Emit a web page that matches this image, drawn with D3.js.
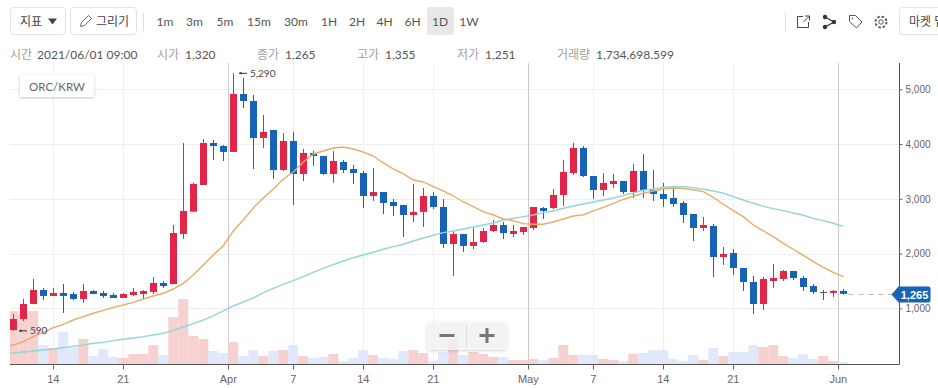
<!DOCTYPE html>
<html>
<head>
<meta charset="utf-8">
<title>ORC/KRW</title>
<script src="https://cdn.jsdelivr.net/npm/d3@7"></script>
<style>
    html, body { margin: 0; padding: 0; background: #fff; overflow: hidden; }
    svg { display: block; }
    text { font-family: Lato, "Noto Sans CJK KR", sans-serif; }
    .axis text { font-family: "Liberation Sans", Arial, sans-serif; fill: #666; }
</style>
</head>
<body>
<div id="chart"></div>
<script>
// daily candles, 2021-03-10 .. 2021-06-01
var opens = [606,807,1081,1336,1227,1282,1263,1172,1318,1282,1245,1190,1245,1263,1300,1464,1445,2358,2765,3252,4019,3964,3855,4913,4785,4110,4256,3526,4055,3453,3836,3782,3453,3672,3544,3471,3051,3124,2942,2887,2705,2760,3051,2851,2176,2358,2139,2212,2413,2522,2358,2394,2467,2832,2832,3070,3471,3927,3416,3161,3270,3325,3124,3508,3161,3088,3015,2924,2723,2467,2504,1938,2011,1737,1482,1081,1500,1537,1683,1555,1409,1300,1282,1320]
var highs = [899,1172,1537,1373,1373,1445,1300,1445,1336,1318,1282,1282,1373,1336,1573,1500,2522,4019,3294,4092,4073,3982,5290,5205,4895,4530,4256,4201,4220,3909,3873,3782,3873,3709,3617,3508,3562,3124,2997,2887,3270,3198,3124,2997,2413,2358,2467,2467,2614,2577,2522,2486,2851,2851,3179,3709,4019,3964,3416,3471,3453,3325,3636,3818,3526,3289,3179,2960,2723,2668,2541,2121,2084,1737,1591,1573,1810,1701,1683,1591,1445,1336,1336,1355]
var lows = [590,770,1081,1154,1227,917,1154,1099,1263,1190,1190,1190,1227,1172,1263,1373,1445,2267,2765,3252,3709,3690,3855,4657,3544,3927,3362,3508,2887,3325,3599,3435,3289,3471,3270,2832,2960,2723,2687,2303,2577,2486,2814,2103,1591,2030,2084,2194,2394,2267,2303,2340,2431,2632,2814,2869,3435,3398,2997,3051,3198,3088,3015,3015,2960,2851,2851,2559,2230,2413,1573,1792,1610,1318,899,971,1373,1500,1518,1318,1263,1154,1209,1251]
var closes = [807,1081,1336,1227,1282,1227,1172,1318,1263,1227,1190,1263,1300,1318,1464,1409,2376,2778,3270,4019,3964,3855,4913,4785,4110,4220,3526,4055,3453,3836,3782,3453,3690,3526,3471,3051,3124,2924,2869,2705,2760,3051,2851,2176,2358,2139,2212,2413,2522,2376,2413,2486,2851,2778,3070,3490,3927,3416,3161,3289,3325,3124,3508,3161,3088,2997,2905,2705,2467,2522,1938,1993,1737,1482,1081,1537,1555,1683,1555,1391,1300,1300,1320,1265]
// volume in millions
var volumes = [46.1,43.5,46.1,16.5,13.9,27.8,13.9,21.8,7,13,6.1,5.2,8.7,8.7,16.5,7.8,40.9,56.6,24.4,21.8,11.3,9.6,19.1,7,12.2,7,11.3,12.2,16.5,7,5.2,6.1,8.7,2.6,5.2,12.2,7.8,5.2,4.4,11.3,12.2,9.6,2.6,10.4,21.8,7.8,10.4,8.7,6.1,6.1,3.5,3.5,4.4,3.5,5.2,16.5,7.8,7.8,7.8,4.4,3.5,2.6,8.7,9.6,12.2,12.2,4.4,2.6,7.8,3.5,13.9,7,10.4,10.4,16.5,14.8,16.5,7,5.2,8.7,4.4,7,2.6,1.73]
// moving averages start one day earlier (2021-03-09), that point is cut by the plot edge
var maShort = [287,332,392,484,564,648,710,788,849,911,965,1020,1062,1111,1172,1226,1276,1354,1458,1610,1792,1975,2144,2413,2613,2832,3015,3179,3362,3489,3672,3818,3873,3927,3946,3909,3854,3781,3654,3544,3453,3343,3307,3221,3143,3051,2942,2856,2765,2705,2632,2601,2546,2535,2535,2577,2632,2686,2710,2778,2845,2918,2991,3046,3101,3143,3179,3197,3185,3166,3130,3028,2900,2783,2674,2522,2413,2309,2188,2079,1969,1852,1750,1659,1579]
var maLong = [173,186,204,223,241,259,283,308,332,363,381,411,436,460,484,515,546,600,661,721,788,867,953,1044,1117,1190,1287,1367,1440,1506,1579,1659,1732,1798,1865,1925,1975,2024,2079,2126,2170,2230,2285,2334,2382,2413,2449,2486,2522,2559,2613,2644,2674,2705,2747,2778,2827,2869,2905,2942,2978,3015,3057,3106,3155,3179,3210,3221,3221,3203,3174,3143,3101,3039,2978,2918,2863,2820,2783,2741,2699,2644,2601,2553,2498]

var priceTicks = [1000, 2000, 3000, 4000, 5000]
var dayTicks = ["2021-03-14", "2021-03-21", "2021-04-07", "2021-04-14", "2021-04-21", "2021-05-07", "2021-05-14", "2021-05-21"]
var monthTicks = ["2021-04-01", "2021-05-01", "2021-06-01"]
var monthNames = ["Apr", "May", "Jun"]
var periods = ["1m", "3m", "5m", "15m", "30m", "1H", "2H", "4H", "6H", "1D", "1W"]
var periodCenters = [165, 194.5, 225, 259, 296, 329, 357, 384.5, 412.5, 440, 469]
var infoLabels = ["시간", "시가", "종가", "고가", "저가", "거래량"]
var infoValues = ["2021/06/01 09:00", "1,320", "1,265", "1,355", "1,251", "1,734,698.599"]
var infoLabelX = [10, 157, 257, 357, 457, 557]
var infoValueX = [37, 185, 285, 385, 485, 596]

var up = "#e2264a", down = "#1763b6", flat = "#555"
var upVol = "#f7d0d0", downVol = "#dfe9fb"
var plotLeft = 10, plotRight = 899, plotTop = 63, plotBottom = 364

function noon(d) { return d3.utcHour.offset(d, 12) }
var dates = d3.utcDay.range(new Date("2021-03-10T00:00Z"), new Date("2021-06-02T00:00Z")).map(noon)
var maDates = [new Date("2021-03-09T12:00Z")].concat(dates)

var xScale = d3.scaleUtc()
    .domain([dates[0], dates[dates.length - 1]])
    .range([13.3, 843.3])
var yScale = d3.scaleLinear()
    .domain([0, 5000])
    .range([363.2, 89.2])
var volScale = d3.scaleLinear()
    .domain([0, 56.6])
    .range([plotBottom, 299])

var svg = d3.select("#chart").append("svg")
    .attr("width", 938)
    .attr("height", 388)

var defs = svg.append("defs")
defs.append("clipPath").attr("id", "plot")
    .append("rect")
    .attr("x", plotLeft).attr("y", plotTop)
    .attr("width", plotRight - plotLeft).attr("height", plotBottom - plotTop)
var shadow = defs.append("filter").attr("id", "shadow")
    .attr("x", "-20%").attr("y", "-30%").attr("width", "140%").attr("height", "170%")
shadow.append("feDropShadow")
    .attr("dx", 0).attr("dy", 1).attr("stdDeviation", 1.5)
    .attr("flood-color", "#000").attr("flood-opacity", 0.22)

/* === Grid === */
var grid = svg.append("g").attr("class", "grid")
grid.selectAll(".hgrid").data(priceTicks).enter().append("line")
    .attr("x1", plotLeft).attr("x2", plotRight)
    .attr("y1", function(d) { return Math.round(yScale(d)) + 0.5 })
    .attr("y2", function(d) { return Math.round(yScale(d)) + 0.5 })
    .attr("stroke", "#eee")
grid.selectAll(".dgrid").data(dayTicks).enter().append("line")
    .attr("x1", function(d) { return Math.floor(xScale(new Date(d + "T12:00Z"))) + 0.5 })
    .attr("x2", function(d) { return Math.floor(xScale(new Date(d + "T12:00Z"))) + 0.5 })
    .attr("y1", plotTop).attr("y2", plotBottom)
    .attr("stroke", "#eee")
grid.selectAll(".mgrid").data(monthTicks).enter().append("line")
    .attr("x1", function(d) { return Math.floor(xScale(new Date(d + "T00:00Z"))) + 0.5 })
    .attr("x2", function(d) { return Math.floor(xScale(new Date(d + "T00:00Z"))) + 0.5 })
    .attr("y1", plotTop).attr("y2", plotBottom)
    .attr("stroke", "#ccc")

var plot = svg.append("g").attr("clip-path", "url(#plot)")

/* === Volume === */
plot.append("g").selectAll("rect")
    .data(dates).enter().append("rect")
    .attr("x", function(d) { return xScale(d) - 5 })
    .attr("width", 10)
    .attr("y", function(d, i) { return volScale(volumes[i]) })
    .attr("height", function(d, i) { return plotBottom - volScale(volumes[i]) })
    .attr("fill", function(d, i) { return closes[i] >= opens[i] ? upVol : downVol })

/* === Candles === */
function candleColor(i) {
    if (closes[i] > opens[i]) return up
    if (closes[i] < opens[i]) return down
    return flat
}
var candles = plot.append("g").selectAll("g")
    .data(dates).enter().append("g")
candles.append("line")
    .attr("x1", function(d) { return Math.floor(xScale(d)) + 0.5 })
    .attr("x2", function(d) { return Math.floor(xScale(d)) + 0.5 })
    .attr("y1", function(d, i) { return yScale(highs[i]) })
    .attr("y2", function(d, i) { return yScale(lows[i]) })
    .attr("stroke", function(d, i) { return candleColor(i) })
candles.append("rect")
    .attr("x", function(d) { return Math.floor(xScale(d)) - 3 })
    .attr("width", 7)
    .attr("y", function(d, i) { return yScale(Math.max(opens[i], closes[i])) })
    .attr("height", function(d, i) { return Math.max(1, Math.abs(yScale(opens[i]) - yScale(closes[i]))) })
    .attr("fill", function(d, i) { return candleColor(i) })

/* === Moving averages === */
var line = d3.line()
    .x(function(d, i) { return xScale(maDates[i]) })
    .y(function(d) { return yScale(d) })
plot.append("path").attr("d", line(maLong))
    .attr("fill", "none").attr("stroke", "#93d5d9").attr("stroke-width", 1.4)
plot.append("path").attr("d", line(maShort))
    .attr("fill", "none").attr("stroke", "#e8ab68").attr("stroke-width", 1.4)

/* === Axes === */
var xAxis = svg.append("g").attr("class", "axis")
    .attr("transform", "translate(0," + (plotBottom + 0.5) + ")")
xAxis.append("line").attr("x1", plotLeft).attr("x2", plotRight).attr("stroke", "#555")
var xTicks = dayTicks.map(function(d) { return { date: new Date(d + "T12:00Z"), label: String(+d.slice(8)) } })
    .concat(monthTicks.map(function(d, i) { return { date: new Date(d + "T00:00Z"), label: monthNames[i] } }))
xAxis.selectAll(".xtick").data(xTicks).enter().append("line")
    .attr("x1", function(d) { return Math.floor(xScale(d.date)) + 0.5 })
    .attr("x2", function(d) { return Math.floor(xScale(d.date)) + 0.5 })
    .attr("y2", 5)
    .attr("stroke", "#666")
xAxis.selectAll("text").data(xTicks).enter().append("text")
    .attr("x", function(d) { return xScale(d.date) })
    .attr("y", 18)
    .attr("text-anchor", "middle")
    .style("font-size", "11px")
    .text(function(d) { return d.label })

var yAxis = svg.append("g").attr("class", "axis")
    .attr("transform", "translate(" + (plotRight + 0.5) + ",0)")
    .call(d3.axisRight(yScale).tickValues(priceTicks).tickSize(3).tickPadding(3).tickFormat(d3.format(",")))
yAxis.select(".domain").remove()
yAxis.selectAll("line").attr("stroke", "#666")
yAxis.selectAll("text").style("font-size", "10px")
yAxis.append("line").attr("y1", plotTop).attr("y2", plotBottom + 0.5).attr("stroke", "#555")

/* === High / low notes === */
function note(dayIndex, value, label) {
    var y = yScale(value), x = Math.floor(xScale(dates[dayIndex])) + 6
    svg.append("line").attr("x1", x).attr("x2", x + 8).attr("y1", y).attr("y2", y).attr("stroke", "#333")
    svg.append("path").attr("d", "M" + x + "," + y + "l2.5,-1.5v3z").attr("fill", "#333")
    svg.append("text").attr("x", x + 11).attr("y", y + 3.5)
        .attr("fill", "#444").style("font-size", "10px").text(label)
}
note(22, highs[22], d3.format(",")(highs[22]))
note(0, lows[0], String(lows[0]))

/* === Last price tag === */
var lastY = Math.round(yScale(closes[closes.length - 1])) + 0.5
svg.append("line")
    .attr("x1", xScale(dates[dates.length - 1]) + 5).attr("x2", 892)
    .attr("y1", lastY).attr("y2", lastY)
    .attr("stroke", "#bbb").attr("stroke-dasharray", "5,5")
svg.append("path")
    .attr("d", "M891.5," + lastY + "l7,-8h30a2,2 0 0 1 2,2v12a2,2 0 0 1 -2,2h-30z")
    .attr("fill", down)
svg.append("text").attr("x", 914.5).attr("y", lastY + 4)
    .attr("text-anchor", "middle").attr("fill", "#fff")
    .style("font-size", "11px").style("font-weight", 700)
    .style("font-family", "'Liberation Sans', Arial, sans-serif")
    .text(d3.format(",")(closes[closes.length - 1]))

/* === Symbol box === */
svg.append("rect").attr("x", 20).attr("y", 75).attr("width", 74).attr("height", 22)
    .attr("fill", "#fff").attr("filter", "url(#shadow)")
svg.append("text").attr("x", 57).attr("y", 90.5).attr("text-anchor", "middle")
    .attr("fill", "#666").style("font-size", "11.5px").text("ORC/KRW")

/* === Zoom buttons === */
svg.append("rect").attr("x", 427).attr("y", 322).attr("width", 80).attr("height", 28).attr("rx", 3)
    .attr("fill", "#f6f6f6").attr("fill-opacity", 0.78).attr("filter", "url(#shadow)")
svg.append("line").attr("x1", 466.5).attr("x2", 466.5).attr("y1", 325).attr("y2", 347).attr("stroke", "#ddd")
svg.append("path").attr("d", "M439.5,335.5h15M479.5,335.5h15M487,328v15")
    .attr("stroke", "#777").attr("stroke-width", 3).attr("fill", "none")

/* === Toolbar === */
var toolbar = svg.append("g")
function button(x, w, label, tx) {
    toolbar.append("rect").attr("x", x + 0.5).attr("y", 7.5).attr("width", w).attr("height", 27).attr("rx", 3)
        .attr("fill", "#fff").attr("stroke", "#e2e2e2")
    toolbar.append("text").attr("x", tx).attr("y", 26).attr("fill", "#444")
        .style("font-size", "12px").text(label)
}
button(10, 55, "지표", 20)
button(70, 66, "그리기", 96)
button(899, 60, "마켓 뎁스", 909)
toolbar.append("path").attr("d", "M48,18.5h9l-4.5,6z").attr("fill", "#444")
toolbar.append("path").attr("d", "M80.5,26.5l1,-4l7,-7l3,3l-7,7z").attr("fill", "none").attr("stroke", "#666")
toolbar.selectAll(".sep").data([143.5, 785.5]).enter().append("line")
    .attr("x1", function(d) { return d }).attr("x2", function(d) { return d })
    .attr("y1", 13).attr("y2", 31).attr("stroke", "#ddd")
toolbar.append("rect").attr("x", 427).attr("y", 7).attr("width", 27).attr("height", 28).attr("rx", 2).attr("fill", "#e8e8e8")
toolbar.selectAll(".period").data(periods).enter().append("text")
    .attr("x", function(d, i) { return periodCenters[i] })
    .attr("y", 26)
    .attr("text-anchor", "middle")
    .attr("fill", "#555")
    .style("font-size", "12px")
    .text(function(d) { return d })

// right side icons
toolbar.append("path").attr("d", "M803,16.5h-5.5v11h11v-5.5M803.5,22l5.5,-5.5M805,16h4.5v4.5")
    .attr("fill", "none").attr("stroke", "#444")
toolbar.append("path").attr("d", "M825,17L834,22L825,27").attr("fill", "none").attr("stroke", "#333").attr("stroke-width", 1.3)
toolbar.selectAll(".node").data([[825, 17], [834, 22], [825, 27]]).enter().append("circle")
    .attr("cx", function(d) { return d[0] }).attr("cy", function(d) { return d[1] })
    .attr("r", 2.2).attr("fill", "#333")
toolbar.append("path").attr("d", "M849.5,15.5h6l6.5,6.5l-5.5,6l-7,-6.5z").attr("fill", "none").attr("stroke", "#555")
toolbar.append("circle").attr("cx", 852.5).attr("cy", 18.5).attr("r", 0.8).attr("fill", "#555")
toolbar.append("circle").attr("cx", 881).attr("cy", 22).attr("r", 5.5)
    .attr("fill", "none").attr("stroke", "#555").attr("stroke-width", 1.8).attr("stroke-dasharray", "2.5,1.8")
toolbar.append("circle").attr("cx", 881).attr("cy", 22).attr("r", 2.2).attr("fill", "none").attr("stroke", "#555")

/* === Info line === */
var info = svg.append("g")
info.selectAll(".label").data(infoLabels).enter().append("text")
    .attr("x", function(d, i) { return infoLabelX[i] })
    .attr("y", 59).attr("fill", "#a0a0a0").style("font-size", "12px")
    .text(function(d) { return d })
info.selectAll(".value").data(infoValues).enter().append("text")
    .attr("x", function(d, i) { return infoValueX[i] })
    .attr("y", 59).attr("fill", "#555").style("font-size", "12px")
    .text(function(d) { return d })
</script>
</body>
</html>
